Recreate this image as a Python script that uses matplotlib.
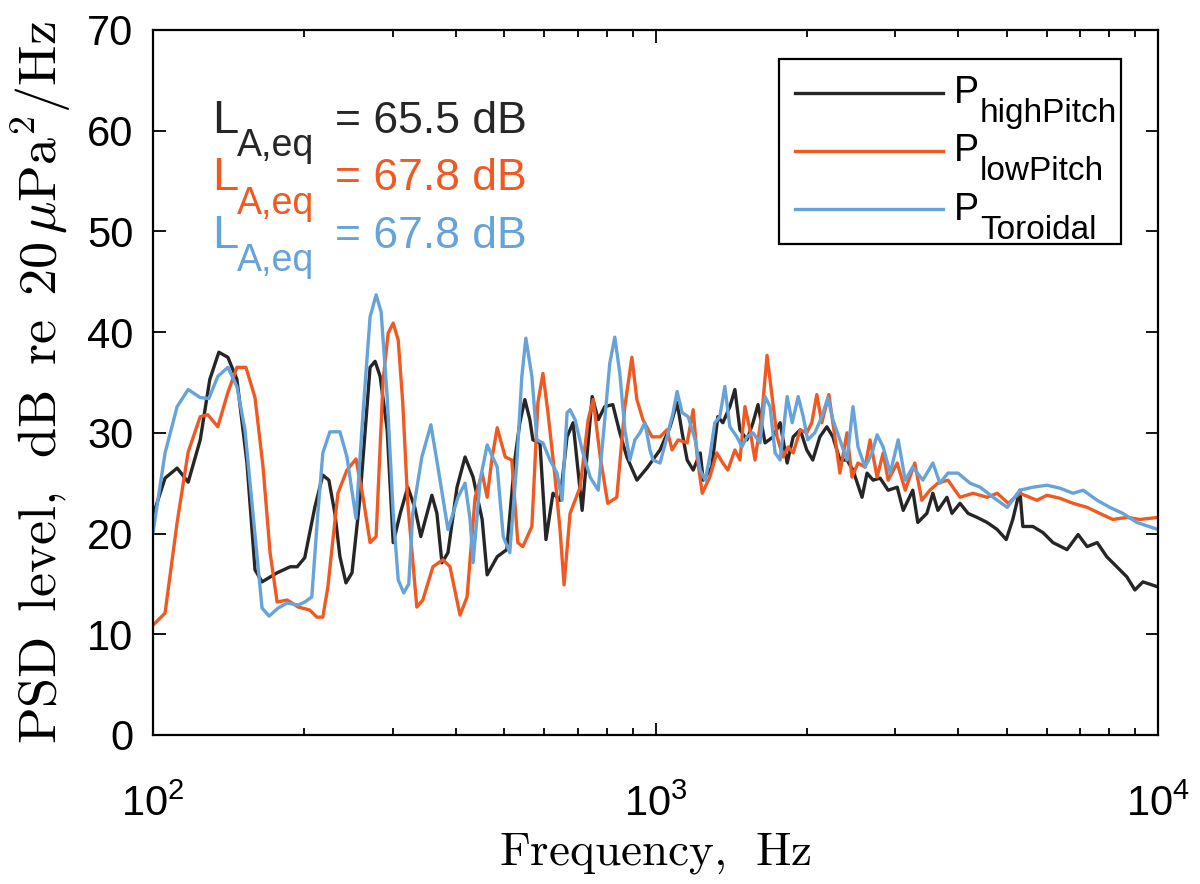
import numpy as np
import matplotlib
matplotlib.use("Agg")
import matplotlib.pyplot as plt
from matplotlib import font_manager
from matplotlib.patches import Rectangle
from matplotlib.lines import Line2D

# ---- data (log10 of frequency in Hz, PSD level in dB) ----
high_logf = [2.000, 2.024, 2.048, 2.070, 2.094, 2.113, 2.131, 2.149, 2.167, 2.187, 2.203, 2.217,
             2.247, 2.273, 2.287, 2.302, 2.322, 2.338, 2.350, 2.362, 2.372, 2.384, 2.396, 2.412,
             2.432, 2.442, 2.452, 2.466, 2.478, 2.492, 2.507, 2.521, 2.533, 2.555, 2.565, 2.575,
             2.587, 2.605, 2.621, 2.637, 2.655, 2.665, 2.685, 2.704, 2.720, 2.730, 2.740, 2.750,
             2.756, 2.770, 2.782, 2.796, 2.810, 2.824, 2.836, 2.854, 2.864, 2.874, 2.886, 2.899,
             2.915, 2.929, 2.943, 2.963, 2.983, 3.009, 3.029, 3.043, 3.053, 3.063, 3.075, 3.089,
             3.095, 3.112, 3.124, 3.134, 3.148, 3.158, 3.168, 3.182, 3.194, 3.204, 3.218, 3.234,
             3.248, 3.262, 3.274, 3.288, 3.301, 3.313, 3.327, 3.341, 3.353, 3.367, 3.381, 3.393,
             3.411, 3.421, 3.433, 3.447, 3.463, 3.481, 3.493, 3.512, 3.522, 3.540, 3.552, 3.562,
             3.580, 3.590, 3.606, 3.622, 3.640, 3.660, 3.680, 3.698, 3.711, 3.725, 3.731, 3.751,
             3.771, 3.791, 3.819, 3.841, 3.859, 3.879, 3.898, 3.918, 3.938, 3.954, 3.970, 4.000]
high_db = [21.8, 25.5, 26.5, 25.1, 29.3, 35.3, 38.0, 37.5, 35.3, 27.0, 16.4, 15.2,
           16.1, 16.7, 16.7, 17.6, 22.6, 25.8, 25.3, 22.0, 17.7, 15.1, 16.1, 23.6,
           36.5, 37.1, 35.6, 30.3, 19.1, 22.0, 24.6, 22.6, 19.7, 23.8, 22.0, 17.1,
           18.1, 24.6, 27.6, 25.6, 21.4, 15.9, 17.7, 18.4, 27.3, 31.0, 33.3, 31.3,
           29.3, 29.0, 19.4, 24.0, 23.3, 29.6, 31.0, 22.3, 28.0, 33.6, 31.3, 32.6,
           32.8, 30.0, 27.6, 25.3, 26.5, 28.3, 30.6, 33.0, 30.0, 27.3, 26.3, 28.0,
           25.3, 26.6, 31.6, 31.0, 32.6, 34.3, 30.3, 29.3, 31.0, 32.8, 29.0, 29.6,
           31.0, 27.0, 29.6, 30.3, 28.3, 27.3, 29.6, 30.6, 29.6, 27.3, 27.3, 26.3,
           23.6, 26.0, 25.3, 25.5, 24.3, 24.6, 22.3, 24.3, 21.1, 22.0, 24.0, 22.3,
           23.6, 22.0, 23.0, 22.0, 21.6, 21.1, 20.4, 19.4, 21.4, 24.3, 20.7, 20.7,
           20.1, 19.1, 18.4, 19.9, 18.7, 19.1, 17.7, 16.7, 15.7, 14.4, 15.2, 14.7]

low_logf = [2.000, 2.024, 2.048, 2.070, 2.094, 2.109, 2.129, 2.149, 2.167, 2.185, 2.203, 2.219,
            2.233, 2.247, 2.267, 2.289, 2.312, 2.326, 2.338, 2.348, 2.368, 2.386, 2.404, 2.418,
            2.432, 2.444, 2.458, 2.468, 2.478, 2.488, 2.497, 2.507, 2.525, 2.537, 2.557, 2.577,
            2.591, 2.611, 2.625, 2.641, 2.655, 2.665, 2.675, 2.685, 2.701, 2.714, 2.726, 2.736,
            2.754, 2.766, 2.776, 2.786, 2.800, 2.810, 2.818, 2.830, 2.850, 2.866, 2.876, 2.890,
            2.905, 2.923, 2.939, 2.953, 2.963, 2.975, 2.993, 3.009, 3.023, 3.033, 3.045, 3.063,
            3.075, 3.083, 3.093, 3.108, 3.122, 3.134, 3.144, 3.158, 3.168, 3.178, 3.188, 3.198,
            3.212, 3.222, 3.232, 3.242, 3.254, 3.264, 3.274, 3.288, 3.301, 3.311, 3.321, 3.331,
            3.345, 3.357, 3.367, 3.381, 3.391, 3.403, 3.417, 3.427, 3.441, 3.453, 3.463, 3.481,
            3.497, 3.516, 3.530, 3.546, 3.562, 3.582, 3.606, 3.632, 3.660, 3.680, 3.702, 3.725,
            3.759, 3.779, 3.805, 3.831, 3.859, 3.884, 3.910, 3.938, 3.964, 4.000]
low_db = [10.9, 12.1, 21.1, 28.1, 31.6, 31.8, 30.6, 34.0, 36.5, 36.5, 33.5, 26.6,
          18.1, 13.2, 13.4, 12.7, 12.4, 11.7, 11.7, 14.7, 24.0, 26.3, 27.4, 23.6,
          19.1, 19.7, 35.3, 39.9, 40.9, 39.2, 33.0, 23.0, 12.7, 13.4, 16.7, 17.4,
          16.7, 11.9, 13.7, 23.6, 26.0, 23.6, 27.6, 30.5, 27.6, 27.3, 19.1, 18.7,
          20.7, 33.0, 35.9, 32.0, 25.6, 20.4, 14.9, 22.0, 24.6, 31.3, 33.3, 27.6,
          23.0, 23.6, 32.6, 37.5, 33.3, 31.3, 29.6, 29.6, 30.3, 28.3, 29.3, 29.0,
          32.3, 27.6, 24.0, 25.6, 28.0, 27.0, 26.3, 28.3, 27.3, 32.6, 30.3, 27.3,
          32.0, 37.7, 33.6, 29.6, 27.6, 28.6, 28.0, 30.3, 30.0, 31.0, 33.8, 31.0,
          33.8, 29.6, 26.0, 30.0, 25.6, 27.0, 26.6, 29.3, 25.6, 28.0, 25.3, 27.0,
          24.3, 27.0, 23.3, 24.3, 25.0, 25.3, 23.6, 24.0, 23.6, 24.0, 23.0, 24.0,
          23.3, 23.8, 23.5, 23.0, 22.6, 22.0, 21.4, 21.6, 21.4, 21.6]

toro_logf = [2.000, 2.024, 2.048, 2.070, 2.094, 2.111, 2.129, 2.149, 2.167, 2.183, 2.199, 2.217,
             2.231, 2.249, 2.267, 2.289, 2.302, 2.316, 2.328, 2.338, 2.352, 2.372, 2.386, 2.404,
             2.418, 2.432, 2.444, 2.454, 2.466, 2.478, 2.488, 2.499, 2.509, 2.517, 2.535, 2.553,
             2.567, 2.587, 2.607, 2.621, 2.631, 2.637, 2.651, 2.665, 2.685, 2.697, 2.710, 2.724,
             2.734, 2.742, 2.754, 2.764, 2.776, 2.790, 2.804, 2.814, 2.824, 2.830, 2.840, 2.854,
             2.870, 2.886, 2.899, 2.909, 2.919, 2.929, 2.939, 2.949, 2.959, 2.969, 2.979, 2.989,
             2.995, 3.009, 3.023, 3.035, 3.043, 3.053, 3.065, 3.079, 3.089, 3.099, 3.108, 3.118,
             3.128, 3.138, 3.148, 3.162, 3.172, 3.182, 3.194, 3.208, 3.218, 3.228, 3.238, 3.248,
             3.262, 3.272, 3.284, 3.294, 3.303, 3.317, 3.331, 3.343, 3.353, 3.367, 3.381, 3.393,
             3.403, 3.417, 3.431, 3.441, 3.453, 3.467, 3.483, 3.497, 3.512, 3.532, 3.552, 3.566,
             3.582, 3.602, 3.626, 3.646, 3.672, 3.700, 3.725, 3.751, 3.779, 3.805, 3.831, 3.851,
             3.879, 3.904, 3.930, 3.958, 4.000]
toro_db = [20.1, 28.0, 32.6, 34.3, 33.5, 33.4, 35.6, 36.5, 34.6, 30.3, 22.0, 12.6,
           11.8, 12.6, 13.1, 12.9, 13.2, 13.7, 22.0, 28.0, 30.1, 30.1, 27.6, 21.5,
           32.0, 41.5, 43.7, 42.0, 33.6, 22.0, 15.4, 14.1, 15.0, 22.0, 27.6, 30.8,
           26.6, 20.4, 23.6, 25.0, 21.4, 17.1, 25.3, 28.8, 26.6, 19.7, 18.1, 27.0,
           35.6, 39.4, 35.6, 29.3, 29.0, 27.3, 26.0, 23.3, 32.0, 32.3, 31.3, 28.3,
           25.6, 24.3, 31.3, 36.9, 39.5, 35.9, 30.3, 27.3, 29.3, 30.0, 31.0, 28.3,
           27.3, 27.0, 29.6, 32.0, 34.1, 32.0, 31.6, 29.3, 26.3, 25.3, 27.6, 31.0,
           31.6, 34.6, 30.6, 29.6, 28.6, 29.6, 30.0, 29.0, 33.6, 32.6, 28.0, 27.3,
           33.6, 31.0, 33.6, 31.6, 29.3, 30.0, 31.6, 33.5, 31.3, 29.3, 27.3, 32.6,
           28.6, 26.6, 28.0, 29.8, 28.6, 26.0, 29.3, 25.3, 26.6, 25.3, 27.0, 25.0,
           26.0, 26.0, 25.0, 24.6, 23.6, 22.6, 24.3, 24.6, 24.8, 24.5, 24.0, 24.3,
           23.3, 22.6, 22.0, 21.1, 20.4]

series_subscripts = ["highPitch", "lowPitch", "Toroidal"]
laeq_values = [65.5, 67.8, 67.8]
colors = ["#262626", "#F05A22", "#65A3D8"]
y_ticks = [0, 10, 20, 30, 40, 50, 60, 70]

# ---- fonts ----
available = {f.name for f in font_manager.fontManager.ttflist}
sans = "Liberation Sans" if "Liberation Sans" in available else "DejaVu Sans"
plt.rcParams["font.family"] = [sans, "DejaVu Sans"]
plt.rcParams["mathtext.fontset"] = "custom"
plt.rcParams["mathtext.rm"] = sans
plt.rcParams["mathtext.it"] = sans + ":italic"
plt.rcParams["mathtext.bf"] = sans + ":bold"

fig = plt.figure(figsize=(12, 8.84), dpi=100)
ax = fig.add_axes([0.1275, 0.1686, 0.8375, 0.7975])

for lf, db, c in zip([high_logf, low_logf, toro_logf], [high_db, low_db, toro_db], colors):
    ax.plot(10 ** np.asarray(lf), db, color=c, lw=2.4, solid_joinstyle="round")

ax.set_xscale("log")
ax.set_xlim(100, 10000)
ax.set_ylim(0, 70)
ax.set_yticks(y_ticks)

for s in ax.spines.values():
    s.set_linewidth(1.6)
    s.set_zorder(5)
ax.tick_params(which="both", direction="in", top=True, right=True, width=1.3)
ax.tick_params(which="major", length=9)
ax.tick_params(which="minor", length=5)
ax.tick_params(axis="y", labelsize=30, pad=14)
ax.tick_params(axis="x", labelsize=30, pad=36)

ax.set_xlabel(r"$\mathrm{Frequency,\ \,Hz}$", fontsize=34, labelpad=4,
              math_fontfamily="cm")
ax.set_ylabel(r"$\mathrm{PSD\ \,level,\ \,dB\ \,re\ \,20\,}\mu\mathrm{Pa^2/Hz}$",
              fontsize=39, labelpad=10, math_fontfamily="cm")

# ---- L_A,eq annotations ----
row_step = 0.0816
for i, (v, c) in enumerate(zip(laeq_values, colors)):
    dy = -i * row_step
    ax.text(0.0587, 0.854 + dy, "L", transform=ax.transAxes, fontsize=34, color=c,
            ha="left", va="baseline")
    ax.text(0.0836, 0.821 + dy, "A,eq", transform=ax.transAxes, fontsize=27, color=c,
            ha="left", va="baseline")
    ax.text(0.181, 0.854 + dy, f"= {v} dB", transform=ax.transAxes, fontsize=32, color=c,
            ha="left", va="baseline")

# ---- legend (drawn by hand to match subscript layout) ----
ax.add_patch(Rectangle((0.623, 0.696), 0.963 - 0.623, 0.959 - 0.696, transform=ax.transAxes,
                       facecolor="white", edgecolor="black", lw=1.6, zorder=6))
leg_step = 0.0825
for i, (sub, c) in enumerate(zip(series_subscripts, colors)):
    dy = -i * leg_step
    ax.add_line(Line2D([0.639, 0.786], [0.911 + dy, 0.911 + dy], transform=ax.transAxes,
                       color=c, lw=2.4, zorder=7))
    ax.text(0.797, 0.896 + dy, "P", transform=ax.transAxes, fontsize=27, color="black",
            ha="left", va="baseline", zorder=7)
    ax.text(0.823, 0.869 + dy, sub, transform=ax.transAxes, fontsize=24, color="black",
            ha="left", va="baseline", zorder=7)

fig.savefig("out.png", dpi=100)
